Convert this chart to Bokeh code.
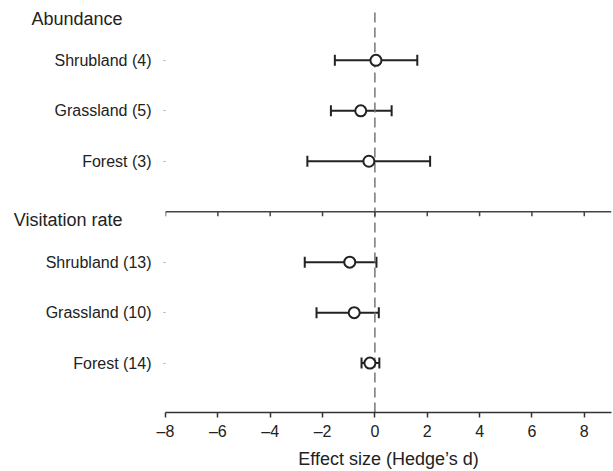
from bokeh.plotting import figure
from bokeh.models import (Range1d, FixedTicker, Whisker, TeeHead, LinearAxis,
                          ColumnDataSource)
from bokeh.embed import file_html
from bokeh.resources import INLINE

# ---- data ----
group_names = ["Abundance", "Visitation rate"]
abund_labels = ["Shrubland (4)", "Grassland (5)", "Forest (3)"]
abund_est = [0.04, -0.54, -0.23]
abund_lo = [-1.53, -1.68, -2.58]
abund_hi = [1.62, 0.64, 2.11]
visit_labels = ["Shrubland (13)", "Grassland (10)", "Forest (14)"]
visit_est = [-0.96, -0.79, -0.19]
visit_lo = [-2.68, -2.23, -0.51]
visit_hi = [0.06, 0.15, 0.17]
x_ticks = [-8, -6, -4, -2, 0, 2, 4, 6, 8]
x_tick_labels = ["\u20138", "\u20136", "\u20134", "\u20132", "0", "2", "4", "6", "8"]
x_title = "Effect size (Hedge\u2019s d)"

FONT = "Liberation Sans"
TXT = "#222222"

# layout (pixels)
FRAME_LEFT = 165
FRAME_BOTTOM = 413
px_per_row = 50.58

rows_a = [i + 1 for i in range(len(abund_labels))]
sep_y = len(abund_labels) + 1
rows_v = [sep_y + i + 1 for i in range(len(visit_labels))]
header_y = [1 - 41 / px_per_row, sep_y + 8 / px_per_row]

labels = abund_labels + visit_labels
rows = rows_a + rows_v
src = ColumnDataSource(dict(
    y=rows,
    est=abund_est + visit_est,
    lo=abund_lo + visit_lo,
    hi=abund_hi + visit_hi,
))

y_top = 1 - 60 / px_per_row
y_bot = 1 + 353 / px_per_row

p = figure(width=613, height=471, output_backend="svg", toolbar_location=None,
           x_range=Range1d(-8, 9.04), y_range=Range1d(y_bot, y_top),
           min_border_left=FRAME_LEFT, min_border_right=2, min_border_top=0,
           min_border_bottom=471 - FRAME_BOTTOM, background_fill_color="white",
           border_fill_color="white")
p.outline_line_color = None
p.xgrid.visible = False
p.ygrid.visible = False

xa = p.xaxis[0]
xa.ticker = FixedTicker(ticks=x_ticks)
xa.major_label_overrides = {t: l for t, l in zip(x_ticks, x_tick_labels)}
xa.axis_line_color = "#333333"
xa.axis_line_width = 1.5
xa.major_tick_line_color = "#333333"
xa.major_tick_line_width = 1.5
xa.major_tick_out = 5
xa.major_tick_in = 0
xa.minor_tick_line_color = None
xa.major_label_text_font = FONT
xa.major_label_text_font_size = "16px"
xa.major_label_text_color = TXT
xa.major_label_standoff = 5
xa.axis_label = x_title
xa.axis_label_text_font = FONT
xa.axis_label_text_font_size = "18px"
xa.axis_label_text_font_style = "normal"
xa.axis_label_text_color = TXT
xa.axis_label_standoff = 6

# row labels (inner left axis)
ya = p.yaxis[0]
ya.ticker = FixedTicker(ticks=rows)
ya.major_label_overrides = {r: l for r, l in zip(rows, labels)}
ya.axis_line_color = None
ya.major_tick_line_color = "#aaaaaa"
ya.major_tick_out = 2
ya.major_tick_in = 0
ya.minor_tick_line_color = None
ya.major_label_text_font = FONT
ya.major_label_text_font_size = "16px"
ya.major_label_text_color = TXT
ya.major_label_standoff = 12

# group headers (outer left axis)
ha = LinearAxis(ticker=FixedTicker(ticks=header_y),
                major_label_overrides={h: g for h, g in zip(header_y, group_names)},
                axis_line_color=None, major_tick_line_color=None,
                minor_tick_line_color=None, major_tick_out=0, major_tick_in=0,
                major_label_text_font=FONT, major_label_text_font_size="18px",
                major_label_text_color=TXT, major_label_standoff=-80)
p.add_layout(ha, "left")

# zero reference line
p.segment(x0=[0], x1=[0], y0=[1 - 48 / px_per_row], y1=[y_bot],
          line_color="#777777", line_width=1.5, line_dash="10 5")

# separator axis between the two groups
x_end = 9.04
p.segment(x0=[x_ticks[0]], x1=[x_end], y0=[sep_y], y1=[sep_y],
          line_color="#444444", line_width=1.5)
p.segment(x0=x_ticks, x1=x_ticks, y0=[sep_y] * len(x_ticks),
          y1=[sep_y + 4.5 / px_per_row] * len(x_ticks),
          line_color="#444444", line_width=1.5)

# error bars
w = Whisker(source=src, base="y", lower="lo", upper="hi", dimension="width",
            line_color=TXT, line_width=2,
            upper_head=TeeHead(size=11, line_color=TXT, line_width=2),
            lower_head=TeeHead(size=11, line_color=TXT, line_width=2))
p.add_layout(w)

# point estimates
p.scatter(x="est", y="y", source=src, size=11, fill_color="white",
          line_color=TXT, line_width=2)

open("out.html", "w").write(file_html(p, INLINE))
